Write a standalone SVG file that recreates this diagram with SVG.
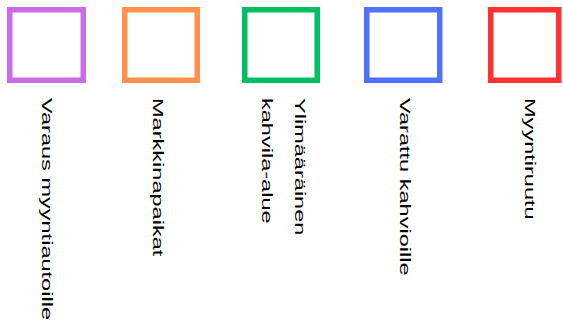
<svg xmlns="http://www.w3.org/2000/svg" width="563" height="325" viewBox="0 0 563 325">
<style>
.sq{fill:#ffffff;stroke-width:5.5}
.lbl{font-family:"Liberation Sans",Arial,sans-serif;font-size:15px;fill:#000000}
</style>
<rect width="563" height="325" fill="#ffffff"/>
<g id="legend-varaus">
<rect class="sq" x="9.75" y="9.75" width="73.5" height="70.5" stroke="#cb6ce6"/>
<text class="lbl" transform="translate(41.5,98) rotate(90) scale(1.57,1)">Varaus myyntiautoille</text>
</g>
<g id="legend-markkina">
<rect class="sq" x="124.75" y="9.75" width="72.5" height="70.5" stroke="#ff914d"/>
<text class="lbl" transform="translate(153,98) rotate(90) scale(1.57,1)">Markkinapaikat</text>
</g>
<g id="legend-ylimaarainen">
<rect class="sq" x="244.75" y="9.75" width="72.5" height="70.5" stroke="#00bf63"/>
<text class="lbl" transform="translate(294.5,98) rotate(90) scale(1.57,1)">Ylimääräinen</text>
<text class="lbl" transform="translate(261.5,98) rotate(90) scale(1.57,1)">kahvila-alue</text>
</g>
<g id="legend-varattu">
<rect class="sq" x="366.75" y="9.75" width="73" height="70.5" stroke="#5170ff"/>
<text class="lbl" transform="translate(400,98) rotate(90) scale(1.57,1)">Varattu kahvioille</text>
</g>
<g id="legend-myyntiruutu">
<rect class="sq" x="490.75" y="9.75" width="68" height="70.5" stroke="#ff3131"/>
<text class="lbl" transform="translate(524.5,98) rotate(90) scale(1.57,1)">Myyntiruutu</text>
</g>
<g id="connectors"></g>
</svg>
